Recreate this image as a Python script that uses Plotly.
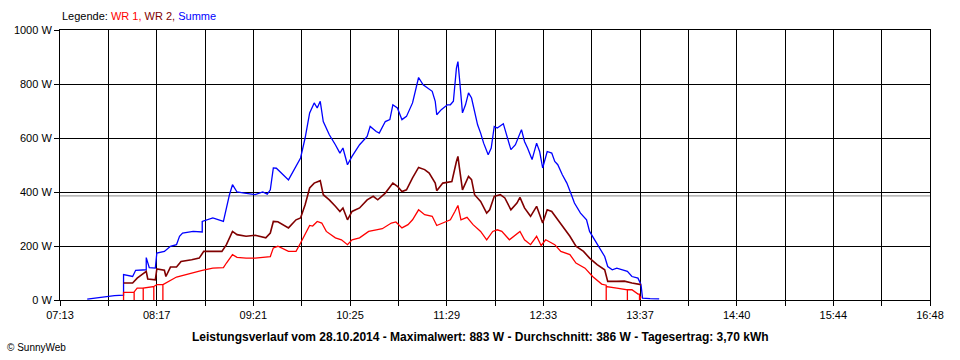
import plotly.graph_objects as go

# ---------------- data ----------------
# times as HH:MM, values in W
SUMME_T = ["07:31","07:36","07:45","07:49","07:55","07:55","08:01","08:03","08:10","08:10",
           "08:12","08:16","08:17","08:22","08:26","08:30","08:32","08:34","08:41","08:47",
           "08:47","08:54","09:01","09:03","09:05","09:07","09:10","09:15","09:22","09:27",
           "09:30","09:32","09:34","09:36","09:44","09:52","09:55","09:58","10:01","10:03",
           "10:05","10:07","10:11","10:15","10:18","10:20","10:23","10:26","10:31","10:36",
           "10:38","10:42","10:44","10:48","10:51","10:53","10:56","10:59","11:02","11:06",
           "11:09","11:10","11:13","11:16","11:19","11:21","11:22","11:25","11:29","11:31",
           "11:33","11:35","11:36","11:37","11:39","11:41","11:43","11:45","11:49","11:51",
           "11:53","11:56","11:58","12:00","12:02","12:06","12:08","12:11","12:14","12:16",
           "12:18","12:20","12:22","12:25","12:28","12:30","12:32","12:35","12:38","12:40",
           "12:42","12:45","12:48","12:51","12:53","12:57","13:01","13:03","13:07","13:10",
           "13:13","13:15","13:18","13:21","13:25","13:28","13:31","13:35","13:37","13:38",
           "13:43","13:49"]
SUMME_W = [3,7,12,16,18,94,87,110,112,157,
           120,118,174,180,199,205,236,248,254,252,
           291,304,291,341,390,427,400,396,390,400,
           392,408,489,488,445,526,600,693,730,711,
           736,661,612,575,544,563,501,532,575,606,
           643,624,618,661,668,723,711,668,680,730,
           797,824,797,785,773,736,686,705,723,723,
           736,859,883,822,693,723,767,748,649,618,
           581,538,563,643,637,653,612,557,575,600,
           631,587,563,520,581,550,489,550,544,513,
           501,464,433,390,359,322,297,254,217,186,
           161,124,112,118,112,106,87,81,57,7,
           5,4]

WR1_T = ["07:55","07:55","08:02","08:02","08:02","08:04","08:08","08:08","08:08","08:15",
         "08:15","08:15","08:17","08:21","08:21","08:21","08:30","08:40","08:47","08:54",
         "09:01","09:03","09:07","09:10","09:16","09:22","09:29","09:32","09:34","09:37",
         "09:44","09:49","09:52","09:55","09:58","10:00","10:03","10:06","10:09","10:15",
         "10:19","10:23","10:26","10:31","10:37","10:42","10:46","10:52","10:55","10:59",
         "11:03","11:06","11:10","11:14","11:19","11:22","11:26","11:31","11:34","11:36",
         "11:38","11:42","11:46","11:51","11:55","11:59","12:02","12:05","12:10","12:13",
         "12:17","12:20","12:24","12:28","12:31","12:34","12:40","12:44","12:50","12:54",
         "13:00","13:05","13:11","13:14","13:14","13:14","13:21","13:26","13:28","13:28",
         "13:28","13:31","13:35","13:36","13:36","13:37"]
WR1_W = [0,28,28,0,30,44,44,0,44,50,
         0,50,57,57,0,57,85,100,110,118,
         120,137,168,158,155,155,158,161,193,199,
         180,180,211,242,276,274,291,285,254,230,
         223,205,223,230,254,260,264,285,289,267,
         279,297,334,316,310,276,285,297,328,350,
         297,306,279,254,223,254,260,254,223,236,
         254,223,205,236,202,223,205,180,168,137,
         118,87,59,55,0,50,44,38,38,0,
         38,38,22,22,0,13]

WR2_T = ["07:55","08:01","08:04","08:10","08:11","08:16","08:17","08:22","08:23","08:26",
         "08:30","08:33","08:40","08:45","08:48","09:00","09:03","09:07","09:10","09:16",
         "09:22","09:29","09:32","09:34","09:37","09:44","09:49","09:52","09:55","09:58",
         "10:01","10:05","10:07","10:11","10:15","10:18","10:20","10:23","10:26","10:31",
         "10:36","10:40","10:43","10:48","10:53","10:56","10:59","11:02","11:06","11:10",
         "11:14","11:17","11:21","11:22","11:26","11:32","11:35","11:36","11:37","11:39",
         "11:43","11:45","11:47","11:51","11:55","11:57","12:00","12:04","12:07","12:11",
         "12:15","12:17","12:20","12:24","12:28","12:32","12:35","12:38","12:42","12:46",
         "12:50","12:54","12:59","13:03","13:08","13:13","13:15","13:21","13:26","13:31",
         "13:36","13:37"]
WR2_W = [63,63,81,106,78,75,115,110,87,122,
         122,143,149,155,180,180,205,254,242,236,
         240,230,248,291,290,267,297,304,353,415,
         433,442,390,371,347,328,341,297,328,341,
         371,384,371,396,433,421,402,408,452,491,
         483,470,433,405,433,439,513,532,489,408,
         458,446,390,365,322,334,384,390,378,334,
         359,380,341,310,347,285,334,328,297,267,
         236,199,180,155,131,112,69,69,70,63,
         57,57]

AVERAGE_W = 386
X_TICK_LABELS = ["07:13", "08:17", "09:21", "10:25", "11:29",
                 "12:33", "13:37", "14:40", "15:44", "16:48"]
Y_TICKS = [0, 200, 400, 600, 800, 1000]


def to_min(s):
    h, m = s.split(":")
    return int(h) * 60 + int(m)


x_start = to_min(X_TICK_LABELS[0])
x_end = to_min(X_TICK_LABELS[-1])
n_grid = 18
step = (x_end - x_start) / n_grid
grid_vals = [x_start + i * step for i in range(n_grid + 1)]
grid_text = [X_TICK_LABELS[i // 2] if i % 2 == 0 else "" for i in range(n_grid + 1)]

fig = go.Figure()
fig.add_hline(y=AVERAGE_W, line=dict(color="#A0A0A0", width=1.2), layer="below")
fig.add_trace(go.Scatter(x=[to_min(t) for t in SUMME_T], y=SUMME_W, mode="lines",
                         line=dict(color="#0000FF", width=1.3), name="Summe"))
fig.add_trace(go.Scatter(x=[to_min(t) for t in WR2_T], y=WR2_W, mode="lines",
                         line=dict(color="#800000", width=1.6), name="WR 2"))
fig.add_trace(go.Scatter(x=[to_min(t) for t in WR1_T], y=WR1_W, mode="lines",
                         line=dict(color="#FF0000", width=1.3), name="WR 1"))

font_family = "Liberation Sans, Arial, sans-serif"
fig.update_layout(
    width=960, height=360,
    margin=dict(l=60, r=30, t=30, b=60),
    paper_bgcolor="white", plot_bgcolor="white",
    showlegend=False, hovermode=False,
    font=dict(family=font_family, size=11, color="black"),
    xaxis=dict(range=[x_start, x_end], tickmode="array", tickvals=grid_vals,
               ticktext=grid_text, showgrid=True, gridcolor="black", gridwidth=1,
               ticks="outside", ticklen=5, tickcolor="black", showline=True,
               linecolor="black", linewidth=1, mirror=True, zeroline=False,
               tickfont=dict(size=11)),
    yaxis=dict(range=[0, 1000], tickmode="array", tickvals=Y_TICKS,
               ticktext=[f"{v} W" for v in Y_TICKS], showgrid=True, gridcolor="black",
               gridwidth=1, ticks="outside", ticklen=5, tickcolor="black",
               showline=True, linecolor="black", linewidth=1, mirror=True,
               zeroline=False, tickfont=dict(size=11)),
)

fig.add_annotation(xref="paper", yref="paper", x=0, y=1 + 14 / 270, xanchor="left",
                   yanchor="middle", showarrow=False, font=dict(size=11),
                   text="Legende: <span style='color:#FF0000'>WR 1,</span> "
                        "<span style='color:#800000'>WR 2,</span> "
                        "<span style='color:#0000FF'>Summe</span>")
fig.add_annotation(xref="paper", yref="paper", x=(480 - 60) / 870, y=-37 / 270,
                   xanchor="center", yanchor="middle", showarrow=False,
                   font=dict(size=12, color="black"),
                   text="<b>Leistungsverlauf vom 28.10.2014 - Maximalwert: 883 W - "
                        "Durchschnitt: 386 W - Tagesertrag: 3,70 kWh</b>")
fig.add_annotation(xref="paper", yref="paper", x=-55 / 870, y=-47 / 270,
                   xanchor="left", yanchor="middle", showarrow=False,
                   font=dict(size=10), text="© SunnyWeb")

fig.write_html("out.html", config={"displayModeBar": False},
               post_script="document.body.style.margin='0';")
